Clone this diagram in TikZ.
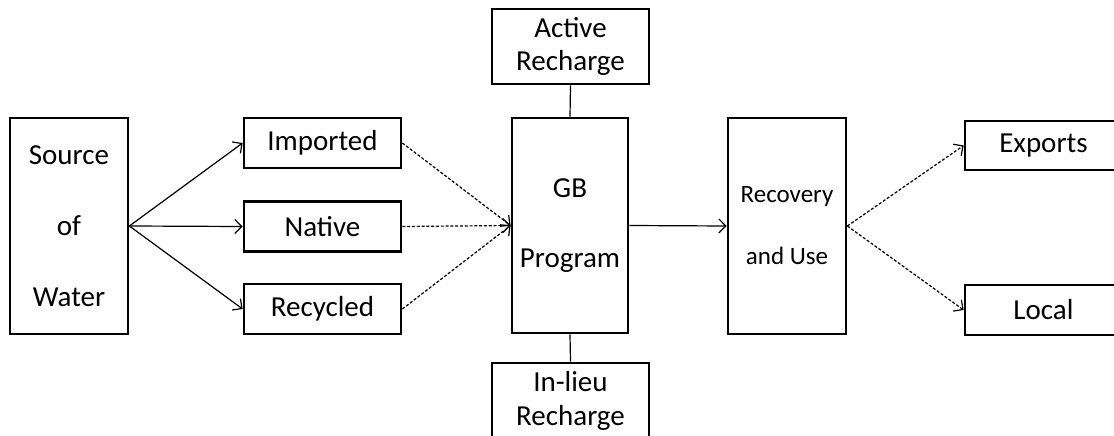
\documentclass[tikz,border=0pt]{standalone}
\usepackage{fontspec}
\setmainfont{Carlito}
\usetikzlibrary{arrows.meta}
\begin{document}
\begin{tikzpicture}[x=1pt,y=-1pt,
  box/.style={draw=black, line width=2.7pt, inner sep=0pt, align=center,
    font=\fontsize{29}{34}\selectfont},
  flow/.style={line width=1.2pt, -{Straight Barb[length=7pt,width=14pt,line width=1.2pt]}},
  dflow/.style={flow, dash pattern=on 3pt off 1.8pt},
  link/.style={line width=1.2pt}]
\useasboundingbox (0,0) rectangle (1114,436);
\clip (0,0) rectangle (1114,436);

% sources
\node[box, minimum width=118pt, minimum height=216pt,
  font=\fontsize{29}{71}\selectfont] (src) at (69,226) {Source\\of\\Water};
\node[box, minimum width=157pt, minimum height=50pt] (imp) at (322.5,143) {Imported};
\node[box, minimum width=157pt, minimum height=50pt] (nat) at (322.5,226.5) {Native};
\node[box, minimum width=157pt, minimum height=50pt] (rec) at (322.5,309) {Recycled};

% groundwater bank program
\node[box, minimum width=116pt, minimum height=215pt,
  font=\fontsize{29}{70}\selectfont] (gb) at (570,225.5) {GB\\Program};
\node[box, minimum width=157pt, minimum height=75pt,
  font=\fontsize{29}{33}\selectfont] (act) at (570.5,46.5) {Active\\Recharge};
\node[box, minimum width=157pt, minimum height=75pt,
  font=\fontsize{29}{34}\selectfont] (inl) at (570.5,400.5) {In-lieu\\Recharge};

% recovery and destinations
\node[box, minimum width=118pt, minimum height=216pt,
  font=\fontsize{25}{62}\selectfont] (ruse) at (787,226) {Recovery\\and Use};
\node[box, minimum width=157pt, minimum height=49pt] (exp) at (1043.5,145.5) {Exports};
\node[box, minimum width=157pt, minimum height=50pt] (loc) at (1043.5,310) {Local};

% connectors
\draw[flow] (src.east) -- (imp.west);
\draw[flow] (src.east) -- (nat.west);
\draw[flow] (src.east) -- (rec.west);
\draw[dflow] (imp.east) -- (gb.west);
\draw[dflow] (nat.east) -- (gb.west);
\draw[dflow] (rec.east) -- (gb.west);
\draw[link] (act.south) -- (gb.north);
\draw[link] (inl.north) -- (gb.south);
\draw[flow] (gb.east) -- (ruse.west);
\draw[dflow] (ruse.east) -- (exp.west);
\draw[dflow] (ruse.east) -- (loc.west);
\end{tikzpicture}
\end{document}
